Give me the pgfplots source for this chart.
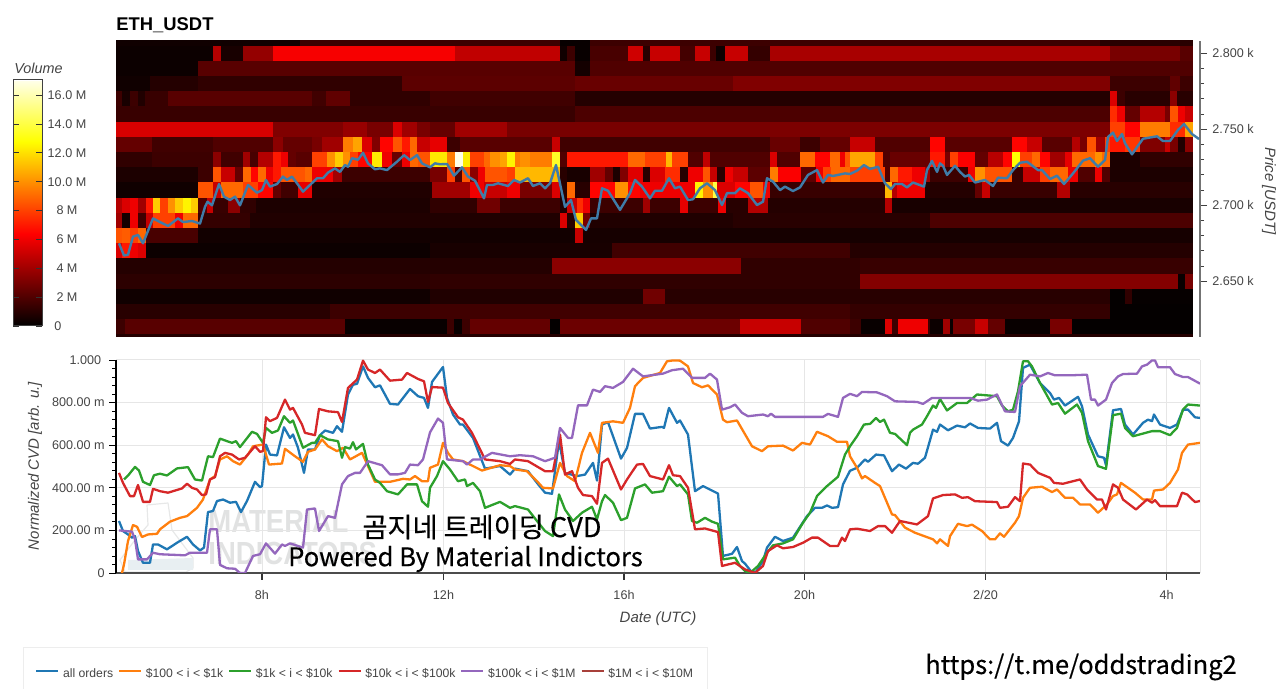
\documentclass[border=0pt]{standalone}
\usepackage{fontspec}
\usepackage{pgfplots}
\pgfplotsset{compat=1.18}
\setmainfont{Liberation Sans}
\newfontfamily\kr{Noto Sans CJK KR}[FakeBold=0.35]
\definecolor{txt}{HTML}{444444}
\definecolor{gridc}{HTML}{E6E6E6}
\definecolor{cblue}{HTML}{1F77B4}
\definecolor{corange}{HTML}{FF7F0E}
\definecolor{cgreen}{HTML}{2CA02C}
\definecolor{cred}{HTML}{D62728}
\definecolor{cpurple}{HTML}{9467BD}
\definecolor{cbrown}{HTML}{A8403A}
\definecolor{cprice}{HTML}{3F7CA8}
\definecolor{wm}{HTML}{E1E2E2}
\definecolor{wmf}{HTML}{E8EFF2}
\newcommand{\tickfont}{\fontsize{6.3}{7.5}\selectfont}
\newcommand{\labfont}{\fontsize{7.5}{9}\selectfont\itshape}
\begin{document}
\begin{tikzpicture}
\path[use as bounding box] (0pt,0pt) rectangle (640pt,344.5pt);
% ------------ upper panel
\begin{axis}[
  at={(58pt,176pt)},anchor=south west,scale only axis,width=542pt,height=148pt,
  xmin=116,xmax=1200,ymin=2613.4,ymax=2808.1,
  axis x line=none,axis y line*=right,
  y axis line style={color=black!55,line width=0.6pt},
  ytick={2650,2700,2750,2800},yticklabels={2.650 k,2.700 k,2.750 k,2.800 k},
  minor y tick num=4,
  tick align=outside,major tick length=3.5pt,minor tick length=2pt,
  y tick style={color=black!75,line width=0.5pt},
  yticklabel style={font=\tickfont,color=txt,inner sep=0pt,xshift=2.5pt},
  ylabel={Price [USDT]},
  ylabel style={at={(axis description cs:1.0636,0.493)},anchor=center,rotate=180,font=\labfont,color=txt},
  title={},
  colormap={myhot}{rgb(0pt)=(0,0,0); rgb(375pt)=(1,0,0); rgb(750pt)=(1,1,0); rgb(1000pt)=(1,1,0.92)},
  point meta min=0,point meta max=17.05,
  colorbar,
  colorbar style={
    at={(-0.09502,0.03716)},anchor=south west,width=14.5pt,height=123pt,
    ymin=0,ymax=17.05,
    ytick={0,2,4,6,8,10,12,14,16},
    yticklabels={0\hspace*{9pt},2 M,4 M,6 M,8 M,10.0 M,12.0 M,14.0 M,16.0 M},
    yticklabel pos=right,
    tick align=inside,major tick length=3pt,
    ytick style={color=black!80,line width=0.4pt},
    axis line style={color=black!75,line width=0.5pt},
    yticklabel style={font=\tickfont,color=txt,anchor=center,xshift=12.5pt,yshift=-0.7pt,inner sep=0pt},
    typeset ticklabels with strut,
  },
]
\addplot[no markers,point meta=\thisrow{m},
  quiver={u={\thisrow{b}-\thisrow{a}+0.3},v=0,colored=mapped color,every arrow/.append style={line width=7.7pt}}]
 table[row sep=\\,x=a,y=y]{
a b y m\\
116 1193 2810 1.5\\ 116 300 2810 .4\\ 560 590 2810 .2\\ 1100 1193 2810 1\\
116 213 2800 .3\\ 213 221 2800 4.5\\ 221 243 2800 .6\\ 243 273 2800 3.7\\ 273 455 2800 6.2\\ 455 560 2800 4.8\\ 560 567 2800 .4\\ 567 575 2800 1.5\\ 575 590 2800 .2\\ 590 628 2800 1.8\\ 628 643 2800 5.2\\ 643 650 2800 1\\ 650 680 2800 5\\ 680 695 2800 1.7\\ 695 710 2800 5\\ 710 716 2800 1.5\\ 716 725 2800 .3\\ 725 748 2800 5\\ 748 770 2800 1.3\\ 770 1110 2800 4.2\\ 1110 1180 2800 3\\ 1180 1193 2800 2.2\\
116 198 2790 .3\\ 198 575 2790 2.2\\ 575 590 2790 .5\\ 590 1193 2790 2\\
116 150 2780 .4\\ 150 198 2780 .9\\ 198 402 2780 1.2\\ 402 575 2780 2.3\\ 575 733 2780 2.6\\ 733 1110 2780 3.2\\ 1110 1170 2780 1.5\\ 1170 1180 2780 2.4\\ 1180 1193 2780 1.5\\
116 122 2770 1.5\\ 122 130 2770 .6\\ 130 138 2770 1.5\\ 138 145 2770 .8\\ 145 168 2770 1.4\\ 168 312 2770 2.2\\ 312 326 2770 1.6\\ 326 350 2770 2.4\\ 350 430 2770 1.2\\ 430 575 2770 1.6\\ 575 1110 2770 .9\\ 1110 1117 2770 5.5\\ 1117 1125 2770 1.5\\ 1125 1170 2770 1\\ 1170 1177 2770 3.5\\ 1177 1193 2770 1\\
116 575 2760 1.4\\ 575 1110 2760 1.9\\ 1110 1117 2760 7.5\\ 1117 1125 2760 6\\ 1125 1140 2760 2.5\\ 1140 1165 2760 4.5\\ 1165 1170 2760 3\\ 1170 1178 2760 8.5\\ 1178 1185 2760 6\\ 1185 1193 2760 5\\
116 273 2750 5.4\\ 273 343 2750 3.2\\ 343 367 2750 3.8\\ 367 393 2750 3\\ 393 402 2750 5.5\\ 402 417 2750 4\\ 417 430 2750 3\\ 430 455 2750 2.5\\ 455 507 2750 4\\ 507 770 2750 3\\ 770 1110 2750 3.1\\ 1110 1125 2750 8\\ 1125 1140 2750 6.5\\ 1140 1170 2750 9.5\\ 1170 1185 2750 7.5\\ 1185 1193 2750 10.5\\
116 152 2740 2.5\\ 152 213 2740 1.6\\ 213 273 2740 2\\ 273 283 2740 3.5\\ 283 312 2740 2.5\\ 312 322 2740 3\\ 322 343 2740 4\\ 343 353 2740 9.5\\ 353 362 2740 10.5\\ 362 372 2740 5.5\\ 372 380 2740 3.2\\ 380 393 2740 6.5\\ 393 402 2740 8.5\\ 402 410 2740 7\\ 410 417 2740 9\\ 417 430 2740 5\\ 430 447 2740 5.8\\ 447 460 2740 1.5\\ 460 552 2740 2.2\\ 552 560 2740 5\\ 560 770 2740 1.6\\ 770 800 2740 2.6\\ 800 820 2740 1.5\\ 820 850 2740 2.5\\ 850 875 2740 5\\ 875 930 2740 2\\ 930 945 2740 6.5\\ 945 1012 2740 2.2\\ 1012 1027 2740 6.5\\ 1027 1042 2740 5\\ 1042 1072 2740 2.2\\ 1072 1080 2740 4.5\\ 1080 1087 2740 3\\ 1087 1096 2740 8.5\\ 1096 1105 2740 4\\ 1105 1110 2740 8\\ 1110 1125 2740 7\\ 1125 1140 2740 7.8\\ 1140 1165 2740 3.2\\ 1165 1170 2740 5\\ 1170 1178 2740 3\\ 1178 1185 2740 .8\\ 1185 1193 2740 3.5\\
116 152 2730 1.2\\ 152 213 2730 1.5\\ 213 221 2730 3.5\\ 221 243 2730 1.6\\ 243 250 2730 4\\ 250 258 2730 1.8\\ 258 273 2730 4.5\\ 273 281 2730 7\\ 281 288 2730 6\\ 288 296 2730 2.5\\ 296 312 2730 2.2\\ 312 327 2730 8\\ 327 335 2730 10\\ 335 343 2730 11.5\\ 343 350 2730 10\\ 350 358 2730 8\\ 358 372 2730 6.5\\ 372 382 2730 12.3\\ 382 392 2730 6\\ 392 402 2730 2.6\\ 402 410 2730 6\\ 410 418 2730 9\\ 418 430 2730 8.5\\ 430 447 2730 12.2\\ 447 455 2730 9.5\\ 455 463 2730 17\\ 463 470 2730 12.3\\ 470 484 2730 8\\ 484 490 2730 9\\ 490 500 2730 10\\ 500 507 2730 10.5\\ 507 515 2730 12.5\\ 515 520 2730 9.5\\ 520 530 2730 10\\ 530 552 2730 9.5\\ 552 560 2730 13.5\\ 560 567 2730 2\\ 567 628 2730 7\\ 628 645 2730 9\\ 645 666 2730 8\\ 666 672 2730 11\\ 672 688 2730 8\\ 688 703 2730 2\\ 703 710 2730 4.8\\ 710 770 2730 2\\ 770 777 2730 5.5\\ 777 800 2730 2\\ 800 815 2730 9\\ 815 830 2730 6.5\\ 830 840 2730 9\\ 840 845 2730 6\\ 845 850 2730 8.5\\ 850 875 2730 10.5\\ 875 883 2730 8\\ 883 890 2730 2\\ 890 930 2730 2.6\\ 930 945 2730 7\\ 945 950 2730 3\\ 950 958 2730 8\\ 958 975 2730 6.3\\ 975 988 2730 2.5\\ 988 1003 2730 4.6\\ 1003 1012 2730 6.5\\ 1012 1020 2730 12.8\\ 1020 1032 2730 8\\ 1032 1040 2730 9\\ 1040 1050 2730 6.5\\ 1050 1065 2730 4\\ 1065 1072 2730 5.8\\ 1072 1095 2730 9\\ 1095 1102 2730 10\\ 1102 1110 2730 9\\ 1110 1140 2730 .7\\ 1140 1193 2730 1.2\\
116 198 2720 .7\\ 198 213 2720 1.5\\ 213 221 2720 8.5\\ 221 235 2720 5\\ 235 243 2720 2.5\\ 243 251 2720 9\\ 251 258 2720 6.5\\ 258 266 2720 9\\ 266 273 2720 6\\ 273 281 2720 7\\ 281 305 2720 8.5\\ 305 312 2720 9\\ 312 333 2720 6\\ 333 342 2720 4\\ 342 430 2720 1.5\\ 430 447 2720 3\\ 447 455 2720 8\\ 455 462 2720 2\\ 462 470 2720 8.5\\ 470 478 2720 3.5\\ 478 485 2720 6\\ 485 507 2720 8.5\\ 507 515 2720 8\\ 515 552 2720 11\\ 552 560 2720 11\\ 560 567 2720 1\\ 567 590 2720 .6\\ 590 605 2720 4\\ 605 613 2720 2.5\\ 613 620 2720 .7\\ 620 628 2720 3.2\\ 628 643 2720 5.6\\ 643 650 2720 1\\ 650 665 2720 5.5\\ 665 680 2720 7.5\\ 680 688 2720 1\\ 688 703 2720 6\\ 703 710 2720 8.5\\ 710 717 2720 5\\ 717 725 2720 1\\ 725 733 2720 6\\ 733 748 2720 5\\ 748 770 2720 2.3\\ 770 778 2720 9.5\\ 778 801 2720 6.3\\ 801 816 2720 2.3\\ 816 823 2720 6\\ 823 831 2720 8\\ 831 850 2720 9\\ 850 885 2720 8\\ 885 890 2720 2\\ 890 898 2720 9\\ 898 912 2720 7\\ 912 925 2720 6\\ 925 930 2720 4\\ 930 968 2720 1.5\\ 968 975 2720 6\\ 975 985 2720 10\\ 985 1012 2720 8.5\\ 1012 1023 2720 1.4\\ 1023 1040 2720 5\\ 1040 1050 2720 8\\ 1050 1068 2720 9\\ 1068 1078 2720 6\\ 1078 1095 2720 2\\ 1095 1102 2720 6\\ 1102 1110 2720 2\\ 1110 1193 2720 .7\\
116 198 2710 .4\\ 198 213 2710 8.5\\ 213 221 2710 5\\ 221 243 2710 9\\ 243 258 2710 8\\ 258 273 2710 6.5\\ 273 281 2710 2.5\\ 281 298 2710 1.6\\ 298 312 2710 5.8\\ 312 432 2710 .8\\ 432 470 2710 4\\ 470 484 2710 6\\ 484 507 2710 5\\ 507 520 2710 6\\ 520 552 2710 3\\ 552 560 2710 5.5\\ 560 567 2710 1\\ 567 575 2710 9\\ 575 590 2710 1\\ 590 615 2710 6.5\\ 615 628 2710 10\\ 628 640 2710 6.5\\ 640 695 2710 6\\ 695 703 2710 12.5\\ 703 713 2710 10\\ 713 717 2710 14\\ 717 735 2710 5.5\\ 735 750 2710 6.5\\ 750 763 2710 8.5\\ 763 770 2710 6\\ 770 885 2710 1.4\\ 885 892 2710 11\\ 892 897 2710 4.5\\ 897 925 2710 6\\ 925 975 2710 .9\\ 975 982 2710 2.5\\ 982 990 2710 5\\ 990 1057 2710 1.4\\ 1057 1070 2710 4.5\\ 1070 1193 2710 1\\
116 122 2700 4.5\\ 122 130 2700 5.5\\ 130 138 2700 6\\ 138 146 2700 4\\ 146 153 2700 7\\ 153 160 2700 11.5\\ 160 168 2700 8\\ 168 175 2700 10\\ 175 183 2700 11.5\\ 183 191 2700 12.5\\ 191 198 2700 11.5\\ 198 207 2700 2\\ 207 213 2700 5\\ 213 228 2700 1.4\\ 228 240 2700 3.5\\ 240 256 2700 1.2\\ 256 430 2700 .7\\ 430 477 2700 1.2\\ 477 500 2700 2.8\\ 500 560 2700 1.5\\ 560 567 2700 .8\\ 567 577 2700 5\\ 577 583 2700 7.5\\ 583 590 2700 6\\ 590 643 2700 1.5\\ 643 650 2700 4\\ 650 680 2700 1.5\\ 680 688 2700 5.8\\ 688 718 2700 1.5\\ 718 726 2700 6\\ 726 748 2700 1\\ 748 768 2700 4.5\\ 768 885 2700 .9\\ 885 892 2700 4.5\\ 892 1193 2700 .6\\
116 122 2690 4\\ 122 130 2690 .5\\ 130 138 2690 6\\ 138 146 2690 1.6\\ 146 153 2690 5\\ 153 175 2690 8\\ 175 183 2690 6\\ 183 198 2690 9\\ 198 250 2690 1.3\\ 250 560 2690 .8\\ 560 567 2690 5.5\\ 567 575 2690 1\\ 575 583 2690 11.5\\ 583 590 2690 3\\ 590 733 2690 .8\\ 733 930 2690 1\\ 930 1193 2690 1.9\\
116 122 2680 8.5\\ 122 130 2680 8.7\\ 130 138 2680 8\\ 138 146 2680 9\\ 146 198 2680 1.8\\ 198 575 2680 .45\\ 575 583 2680 5\\ 583 1193 2680 .55\\
116 122 2670 5.5\\ 122 130 2670 7\\ 130 138 2670 6\\ 138 146 2670 5.5\\ 146 430 2670 .3\\ 430 612 2670 .6\\ 612 850 2670 1.6\\ 850 1193 2670 .9\\
116 552 2660 .9\\ 552 741 2660 3.5\\ 741 860 2660 1.2\\ 860 1193 2660 1.4\\
116 430 2650 1.1\\ 430 860 2650 1.2\\ 860 1178 2650 3.3\\ 1178 1185 2650 .2\\ 1185 1193 2650 3\\
116 430 2640 .4\\ 430 643 2640 .8\\ 643 665 2640 2.8\\ 665 1110 2640 1\\ 1110 1125 2640 .1\\ 1125 1132 2640 1.2\\ 1132 1193 2640 .15\\
116 330 2630 1\\ 330 430 2630 1.5\\ 430 850 2630 1.6\\ 850 1110 2630 1.3\\ 1110 1193 2630 .1\\
116 125 2620 1.5\\ 125 345 2620 2.2\\ 345 447 2620 .2\\ 447 454 2620 1.5\\ 454 462 2620 .2\\ 462 470 2620 1.5\\ 470 550 2620 2.5\\ 550 560 2620 .1\\ 560 740 2620 2.7\\ 740 801 2620 5\\ 801 850 2620 2\\ 850 861 2620 1.5\\ 861 885 2620 .2\\ 885 892 2620 5.5\\ 892 898 2620 1.5\\ 898 928 2620 6\\ 928 930 2620 1.5\\ 930 943 2620 .3\\ 943 950 2620 4\\ 950 953 2620 .2\\ 953 975 2620 3\\ 975 988 2620 5\\ 988 1005 2620 2.5\\ 1005 1050 2620 .2\\ 1050 1072 2620 3\\ 1072 1193 2620 .1\\
116 1193 2610 .9\\
};
\addplot[cprice,line width=1.2pt,line join=round,no markers] table[row sep=\\,x=x,y=y]{
x y\\
119 2675\\124 2667\\128 2667.5\\133 2679.4\\138 2680.5\\143 2675\\147 2681.6\\153 2691.4\\160 2689\\168 2686.4\\178 2691.4\\183 2689\\192 2689.7\\200 2688\\205 2699\\207.5 2702.4\\212 2700\\219 2714\\224 2705.7\\230 2703.5\\235 2705.7\\240 2700\\248 2713.4\\257 2708.3\\262 2710\\266 2716.6\\270 2712.3\\277 2714\\283 2718.9\\287 2716.7\\292 2718.9\\297 2714.5\\303 2709\\310 2713.4\\317 2717.8\\323 2717.8\\328 2721.5\\335 2724.3\\340 2722\\345 2726.5\\348 2725.4\\352 2731\\358 2730\\363 2734.6\\368 2727.6\\375 2723.7\\380 2724.3\\387 2723.2\\397 2728.7\\404 2733\\410 2729.8\\417 2733\\422 2727.6\\430 2725\\
435 2727.6\\440 2727\\447 2727.2\\454 2719.5\\462 2725\\468 2718.9\\475 2716.2\\484 2704.6\\487 2713.4\\493 2713.4\\498 2714.5\\508 2712.7\\514 2716.7\\520 2715\\528 2717.8\\533 2712.7\\540 2714.5\\545 2711.2\\550 2714.5\\556 2726.5\\565 2699\\571 2703.5\\576 2690.4\\586 2683.8\\591 2691.4\\597 2691.4\\602 2711.2\\608 2709.6\\620 2697\\630 2708\\635 2716.7\\642 2712.3\\650 2704.6\\655 2709.6\\662 2709.6\\669 2717.8\\675 2711.2\\680 2712.3\\688 2703.5\\693 2704\\700 2711.2\\707 2714.5\\715 2710\\722 2700.2\\727 2708\\735 2708\\740 2711.2\\748 2708\\757 2700.2\\763 2702.4\\767 2717.8\\773 2715.6\\780 2710\\785 2712.3\\793 2709.4\\800 2711.8\\808 2720\\817 2723.2\\823 2715\\828 2720\\833 2719.3\\845 2721\\850 2720.6\\
857 2722.8\\864 2726.5\\870 2723.9\\878 2725.4\\885 2714.5\\891 2710.7\\895 2714\\902 2714\\907 2711.8\\913 2715\\924 2712.3\\927 2723.2\\932 2729.2\\937 2722\\940 2727.6\\943 2726\\947 2720\\955 2726\\960 2722\\965 2718.9\\969 2720\\975 2715\\985 2716.7\\993 2712.7\\998 2718.2\\1007 2717.8\\1013 2723.2\\1020 2728\\1027 2728.7\\1038 2723.2\\1042 2723.2\\1050 2717.3\\1057 2719.5\\1064 2714\\1073 2721\\1083 2729.4\\1090 2731\\1098 2725.4\\1105 2729.8\\1108 2745\\1113 2747.8\\1117 2742.3\\1122 2746.9\\1125 2740.8\\1132 2733.5\\1137 2738.3\\1143 2743.8\\1157 2745.4\\1163 2742.3\\1170 2742.3\\1178 2749.6\\1184 2753.5\\1192 2746.9\\1199 2743.6\\
};
\end{axis}
% ------------ watermark
\draw[wm!80,line width=0.6pt,line join=round] (73.5pt,92pt)--(84pt,93pt)--(86pt,79.5pt)--(96.5pt,65.5pt)--(96.5pt,60.5pt)--(93pt,58.5pt)--(62.5pt,58.5pt)--(60pt,64.5pt)--(67.5pt,74.5pt)--(74pt,82pt)--cycle;
\fill[wmf] (64pt,64.5pt)--(96.5pt,65.5pt)--(96.5pt,59.5pt)--(64pt,59.5pt)--cycle;
\node[anchor=west,inner sep=0pt,text=wm,font=\fontsize{16}{18}\selectfont\bfseries] at (104pt,83.5pt) {\scalebox{.86}[1]{MATERIAL}};
\node[anchor=west,inner sep=0pt,text=wm,font=\fontsize{16}{18}\selectfont\bfseries] at (104pt,68pt) {\scalebox{.86}[1]{INDICATORS}};
% ------------ lower panel
\begin{axis}[
  at={(58pt,58pt)},anchor=south west,scale only axis,width=542pt,height=106.5pt,
  xmin=116,xmax=1200,ymin=0,ymax=1,
  axis x line*=bottom,axis y line*=left,
  x axis line style={color=black!70,line width=0.9pt,-},
  y axis line style={color=black,line width=0.6pt,-},
  xtick={262,443.5,624,804.5,985.5,1166.5},
  xticklabels={8h,12h,16h,20h,2/20,4h},
  ytick={0,0.2,0.4,0.6,0.8,1},
  yticklabels={0,200.00 m,400.00 m,600.00 m,800.00 m,1.000\hspace*{1.7pt}},
  minor y tick num=4,
  grid=major,grid style={gridc,line width=0.5pt},
  tick align=outside,major tick length=3.5pt,minor tick length=2pt,
  x tick style={color=black!80,line width=0.6pt},
  y tick style={color=black,line width=0.4pt},
  minor y tick style={color=black,line width=0.4pt},
  xticklabel style={font=\tickfont,color=txt,inner sep=0pt,yshift=-5pt},
  yticklabel style={font=\tickfont,color=txt,inner sep=0pt,xshift=-2pt},
  xlabel={Date (UTC)},
  xlabel style={at={(axis description cs:0.5,-0.216)},anchor=center,font=\labfont,color=txt},
  ylabel={Normalized CVD [arb. u.]},
  ylabel style={at={(axis description cs:-0.0747,0.502)},anchor=center,font=\labfont,color=txt},
  legend columns=6,
  legend style={at={(axis description cs:-0.0748,-0.4744)},anchor=west,draw=none,fill=none,inner sep=0pt,
    font=\fontsize{6.1}{7.2}\selectfont,text=txt,
    /tikz/every even column/.append style={column sep=1pt},
    /tikz/every odd column/.append style={column sep=0.35pt},
    nodes={inner sep=1.5pt,text height=4.6pt,text depth=1.3pt}},
  legend cell align=left,
  legend image code/.code={\draw[#1,line width=1pt] (0pt,1.6pt)--(11pt,1.6pt);},
  every axis plot/.append style={line width=1.15pt,line join=round,no markers},
]
\addplot[cblue] table[row sep=\\,x=x,y=y]{
x y\\
119 .244\\123 .197\\128 .181\\132 .166\\135 .173\\138 .103\\143 .048\\150 .048\\153 .134\\158 .134\\167 .111\\177 .142\\187 .17\\193 .134\\200 .106\\204 .119\\208 .286\\213 .291\\217 .338\\223 .345\\230 .33\\236 .334\\241 .286\\247 .338\\255 .428\\260 .403\\262 .408\\266 .603\\270 .556\\277 .552\\284 .684\\290 .634\\293 .65\\298 .588\\304 .47\\308 .58\\315 .58\\320 .647\\325 .669\\333 .658\\337 .689\\342 .663\\348 .838\\353 .884\\357 .888\\363 .97\\368 .916\\375 .872\\380 .881\\390 .794\\398 .791\\410 .864\\418 .83\\424 .822\\428 .775\\432 .897\\443 .967\\447 .822\\453 .744\\460 .697\\463 .697\\473 .634\\485 .49\\500 .502\\510 .462\\515 .49\\528 .478\\537 .423\\545 .377\\552 .372\\559 .62\\565 .47\\577 .455\\585 .462\\593 .517\\597 .434\\602 .697\\608 .708\\621 .537\\627 .587\\635 .747\\643 .747\\650 .678\\662 .686\\664 .681\\669 .775\\677 .705\\680 .716\\688 .65\\695 .384\\703 .408\\718 .373\\723 .08\\732 .09\\737 .122\\742 .056\\745 .044\\752 .002\\756 .006\\763 .056\\767 .119\\775 .17\\783 .15\\793 .166\\807 .267\\815 .306\\822 .306\\827 .317\\832 .306\\838 .309\\843 .416\\850 .48\\857 .494\\865 .533\\868 .522\\876 .556\\884 .552\\892 .478\\899 .509\\906 .49\\913 .517\\918 .513\\925 .541\\933 .673\\937 .663\\940 .697\\948 .67\\957 .692\\965 .684\\970 .702\\978 .681\\990 .678\\997 .705\\1001 .619\\1008 .598\\1013 .634\\1019 .712\\1023 .963\\1030 .978\\1040 .892\\1050 .845\\1054 .814\\1059 .822\\1065 .786\\1078 .827\\1082 .783\\1088 .65\\1098 .548\\1104 .541\\1106 .506\\1113 .764\\1121 .77\\1125 .697\\1133 .65\\1143 .705\\1148 .72\\1152 .713\\1154 .744\\1160 .697\\1170 .681\\1177 .697\\1183 .767\\1188 .767\\1195 .731\\1200 .728\\
};
\addlegendentry{all orders}
\addplot[corange] table[row sep=\\,x=x,y=y]{
x y\\
122 0\\124 .04\\128 .15\\133 .225\\137 .217\\142 .169\\148 .181\\157 .184\\160 .205\\170 .241\\180 .259\\187 .267\\197 .306\\203 .345\\210 .439\\215 .455\\220 .533\\227 .548\\233 .525\\240 .509\\248 .556\\253 .595\\263 .603\\269 .509\\282 .514\\285 .583\\295 .548\\303 .522\\308 .569\\315 .58\\322 .627\\328 .595\\337 .572\\343 .588\\350 .533\\362 .564\\368 .502\\375 .428\\390 .428\\403 .442\\410 .439\\415 .455\\422 .431\\428 .431\\430 .494\\438 .509\\443 .611\\448 .564\\453 .533\\463 .525\\473 .502\\482 .481\\500 .506\\510 .502\\515 .486\\527 .478\\537 .431\\543 .4\\553 .397\\560 .517\\567 .455\\575 .431\\582 .564\\590 .658\\598 .564\\602 .705\\613 .712\\623 .705\\630 .775\\635 .877\\643 .916\\660 .939\\667 .994\\673 .998\\680 .997\\688 .97\\693 .892\\702 .872\\708 .881\\717 .838\\723 .72\\727 .708\\737 .716\\752 .595\\762 .572\\768 .595\\783 .598\\793 .575\\802 .611\\810 .603\\817 .663\\828 .642\\837 .616\\847 .616\\850 .548\\857 .494\\862 .444\\865 .455\\875 .423\\880 .408\\892 .275\\895 .272\\905 .213\\915 .189\\933 .158\\937 .139\\940 .158\\948 .127\\950 .173\\958 .231\\967 .22\\972 .227\\982 .197\\990 .158\\995 .158\\1000 .186\\1004 .17\\1015 .236\\1019 .267\\1023 .353\\1030 .4\\1042 .405\\1052 .38\\1057 .392\\1065 .353\\1073 .353\\1080 .322\\1090 .322\\1098 .283\\1107 .322\\1113 .361\\1117 .369\\1121 .423\\1135 .377\\1143 .345\\1152 .345\\1154 .387\\1163 .392\\1170 .423\\1178 .486\\1182 .564\\1188 .603\\1200 .611\\
};
\addlegendentry{\$100 < i < \$1k}
\addplot[cgreen] table[row sep=\\,x=x,y=y]{
x y\\
124 .439\\129 .463\\135 .498\\139 .481\\143 .428\\150 .413\\154 .459\\160 .466\\167 .458\\177 .491\\188 .497\\195 .439\\202 .434\\208 .548\\213 .544\\220 .631\\227 .619\\232 .611\\236 .619\\240 .591\\252 .663\\257 .653\\263 .611\\266 .681\\272 .658\\278 .669\\284 .736\\290 .705\\293 .716\\303 .588\\312 .611\\315 .611\\320 .647\\328 .627\\338 .619\\342 .541\\345 .591\\350 .584\\353 .614\\356 .58\\363 .606\\368 .509\\375 .439\\380 .423\\387 .384\\398 .369\\407 .416\\417 .416\\422 .337\\428 .311\\430 .4\\437 .455\\443 .525\\450 .486\\458 .431\\465 .439\\467 .408\\473 .423\\480 .384\\485 .306\\500 .334\\510 .306\\515 .314\\528 .298\\537 .244\\545 .197\\553 .173\\559 .369\\565 .298\\573 .244\\582 .283\\592 .311\\597 .252\\602 .337\\605 .366\\613 .33\\621 .248\\627 .259\\635 .397\\645 .416\\652 .377\\663 .384\\669 .452\\677 .408\\680 .416\\688 .369\\692 .244\\697 .236\\705 .259\\712 .241\\718 .231\\723 .064\\735 .072\\740 .033\\745 .009\\750 0\\758 .033\\767 .095\\773 .13\\783 .139\\793 .158\\803 .236\\810 .283\\817 .361\\827 .408\\838 .452\\845 .556\\850 .595\\857 .642\\864 .697\\870 .7\\876 .728\\880 .709\\884 .72\\890 .658\\895 .653\\907 .6\\910 .658\\913 .673\\922 .697\\927 .736\\933 .786\\936 .775\\940 .817\\947 .763\\957 .798\\967 .798\\977 .838\\997 .83\\1002 .786\\1008 .759\\1013 .767\\1018 .853\\1023 .994\\1028 .994\\1032 .97\\1040 .892\\1052 .791\\1058 .798\\1065 .748\\1077 .791\\1082 .752\\1088 .619\\1098 .502\\1106 .489\\1113 .741\\1121 .748\\1125 .681\\1133 .642\\1152 .666\\1160 .666\\1170 .647\\1177 .681\\1183 .767\\1188 .791\\1200 .786\\
};
\addlegendentry{\$1k < i < \$10k}
\addplot[cred] table[row sep=\\,x=x,y=y]{
x y\\
119 .47\\123 .423\\130 .361\\134 .361\\138 .413\\143 .334\\150 .334\\153 .395\\160 .384\\168 .377\\182 .397\\187 .419\\192 .4\\197 .392\\202 .366\\206 .369\\210 .439\\215 .45\\220 .548\\225 .564\\232 .556\\239 .533\\245 .541\\255 .595\\260 .569\\263 .572\\266 .731\\270 .713\\277 .728\\285 .814\\290 .767\\293 .775\\302 .697\\305 .658\\315 .647\\319 .77\\328 .759\\338 .755\\342 .709\\348 .869\\357 .908\\363 .997\\368 .955\\375 .939\\380 .955\\390 .903\\402 .908\\407 .939\\418 .911\\424 .9\\428 .803\\432 .873\\443 .87\\448 .798\\458 .731\\463 .72\\472 .658\\485 .533\\500 .525\\510 .512\\515 .533\\528 .525\\545 .478\\553 .478\\560 .65\\565 .462\\572 .478\\578 .4\\583 .366\\592 .361\\597 .325\\602 .517\\608 .537\\621 .392\\627 .439\\637 .509\\643 .512\\650 .455\\663 .439\\669 .506\\673 .459\\680 .455\\688 .4\\695 .205\\705 .209\\718 .192\\722 .033\\735 .048\\745 .017\\755 0\\763 .033\\768 .103\\777 .13\\783 .116\\793 .122\\803 .142\\812 .166\\818 .166\\830 .127\\838 .127\\842 .166\\845 .15\\850 .205\\857 .208\\870 .197\\878 .22\\885 .22\\892 .189\\900 .244\\917 .228\\928 .267\\933 .35\\943 .366\\955 .369\\962 .353\\968 .356\\975 .337\\997 .333\\1000 .306\\1008 .311\\1015 .356\\1020 .337\\1023 .514\\1030 .509\\1038 .47\\1050 .447\\1054 .423\\1063 .419\\1080 .439\\1087 .392\\1097 .345\\1102 .345\\1106 .298\\1113 .416\\1118 .4\\1123 .345\\1136 .298\\1147 .345\\1152 .33\\1155 .342\\1160 .314\\1177 .314\\1182 .377\\1187 .369\\1195 .333\\1200 .338\\
};
\addlegendentry{\$10k < i < \$100k}
\addplot[cpurple] table[row sep=\\,x=x,y=y]{
x y\\
119 .2\\132 .194\\135 .158\\138 .064\\147 .064\\153 .095\\160 .088\\185 .083\\190 .095\\207 .095\\210 .205\\217 .205\\220 .038\\227 .022\\235 .02\\240 0\\245 0\\253 .08\\260 .088\\266 .139\\275 .091\\282 .134\\285 .127\\290 .139\\303 .119\\307 .298\\315 .303\\319 .197\\328 .267\\335 .259\\342 .416\\348 .455\\355 .47\\360 .47\\368 .525\\382 .506\\390 .463\\398 .463\\405 .47\\410 .509\\418 .506\\423 .533\\430 .66\\438 .725\\443 .705\\447 .533\\463 .525\\467 .509\\473 .533\\480 .533\\492 .564\\510 .548\\520 .553\\533 .548\\545 .525\\555 .541\\560 .681\\568 .634\\572 .634\\578 .787\\587 .787\\593 .861\\600 .85\\605 .877\\613 .869\\623 .897\\633 .959\\643 .923\\663 .936\\672 .952\\683 .959\\692 .916\\705 .916\\710 .936\\717 .908\\722 .767\\730 .778\\735 .791\\742 .752\\748 .736\\763 .744\\768 .736\\771 .748\\775 .733\\823 .733\\828 .747\\838 .733\\843 .822\\850 .841\\857 .83\\862 .85\\877 .848\\887 .83\\895 .806\\917 .803\\923 .794\\932 .822\\970 .822\\978 .809\\987 .814\\997 .838\\1005 .759\\1015 .756\\1020 .877\\1030 .931\\1040 .923\\1048 .939\\1055 .928\\1070 .928\\1087 .931\\1091 .814\\1095 .814\\1098 .786\\1106 .814\\1112 .892\\1118 .923\\1123 .934\\1137 .936\\1142 .97\\1147 .978\\1152 .998\\1155 .998\\1158 .966\\1170 .966\\1175 .934\\1183 .92\\1188 .92\\1200 .889\\
};
\addlegendentry{\$100k < i < \$1M}
\addlegendimage{cbrown}
\addlegendentry{\$1M < i < \$10M}
\end{axis}
% ------------ free text
\draw[gridc,line width=0.5pt] (600pt,58pt)--(600pt,164.5pt);
\draw[black!7,line width=0.5pt] (11.5pt,0pt)--(11.5pt,20.5pt)--(353.5pt,20.5pt)--(353.5pt,0pt);
\node[anchor=west,inner sep=0pt,font=\fontsize{9.2}{11}\selectfont\bfseries] at (58pt,332pt) {ETH\_USDT};
\node[anchor=west,inner sep=0pt,text=txt,font=\fontsize{7.2}{9}\selectfont\itshape] at (7pt,310.5pt) {Volume};
\node[inner sep=0pt,font=\kr\fontsize{13.6}{15}\selectfont] at (241pt,81pt) {곰지네 트레이딩 CVD};
\node[inner sep=0pt,font=\kr\fontsize{12.8}{14}\selectfont] at (232.75pt,65pt) {Powered By Material Indictors};
\node[inner sep=0pt,font=\kr\fontsize{12.75}{15}\selectfont] at (540.5pt,11pt) {https://t.me/oddstrading2};
\end{tikzpicture}
\end{document}
